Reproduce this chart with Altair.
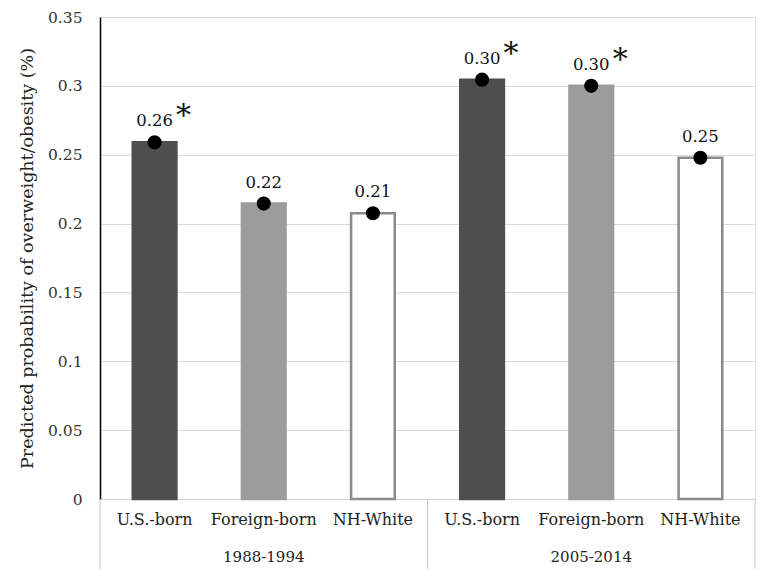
import altair as alt
import pandas as pd

groups = ["U.S.-born", "Foreign-born", "NH-White"]
periods = ["1988-1994", "2005-2014"]
probs_1988 = [0.259, 0.2145, 0.2075]
probs_2005 = [0.3045, 0.300, 0.2478]
labels_1988 = ["0.26", "0.22", "0.21"]
labels_2005 = ["0.30", "0.30", "0.25"]
signif_1988 = [True, False, False]
signif_2005 = [True, True, False]
y_ticks = [0, 0.05, 0.1, 0.15, 0.2, 0.25, 0.3, 0.35]

fills = {"U.S.-born": "#4e4e4e", "Foreign-born": "#9c9c9c", "NH-White": "#ffffff"}
strokes = {"U.S.-born": "#4e4e4e", "Foreign-born": "#9c9c9c", "NH-White": "#8a8a8a"}

rows = []
for period, probs, labs, sig in [
    (periods[0], probs_1988, labels_1988, signif_1988),
    (periods[1], probs_2005, labels_2005, signif_2005),
]:
    for g, p, l, s in zip(groups, probs, labs, sig):
        rows.append({"key": f"{g}|{period}", "group": g, "period": period,
                     "prob": p, "label": l, "star": "*" if s else ""})
df = pd.DataFrame(rows)
keys = list(df["key"])

W, H = 655, 482
FONT = "DejaVu Serif"

x_enc = alt.X("key:N", sort=keys,
              scale=alt.Scale(paddingInner=0, paddingOuter=0),
              axis=alt.Axis(title=None, labelAngle=0, labelExpr="split(datum.label, '|')[0]",
                            labelFont=FONT, labelFontSize=16, labelColor="#222",
                            labelPadding=12, ticks=False, domainColor="#d0d0d0",
                            domainWidth=1.2, grid=False))
y_scale = alt.Scale(domain=[0, 0.35], nice=False)
y_enc = alt.Y("prob:Q", scale=y_scale,
              axis=alt.Axis(title="Predicted probability  of overweight/obesity  (%)",
                            values=y_ticks, format=".2~f", labelFont=FONT, labelFontSize=15.5,
                            labelColor="#333", labelPadding=18, ticks=False,
                            domainColor="#000", domainWidth=1.5,
                            titleFont=FONT, titleFontSize=17.5, titleFontWeight="normal",
                            titleColor="#222", titlePadding=11,
                            grid=True, gridColor="#d9d9d9", gridWidth=1))

base = alt.Chart(df)

bars = base.mark_bar(width=alt.RelativeBandSize(0.4), strokeWidth=2.5).encode(
    x=x_enc, y=y_enc,
    fill=alt.Fill("group:N", scale=alt.Scale(domain=list(fills), range=list(fills.values())), legend=None),
    stroke=alt.Stroke("group:N", scale=alt.Scale(domain=list(strokes), range=list(strokes.values())), legend=None),
)

dots = base.mark_circle(size=200, color="#000", opacity=1).encode(
    x=alt.X("key:N", sort=keys), y=alt.Y("prob:Q"))

vals = base.mark_text(font=FONT, fontSize=16.5, color="#111", dy=-21, baseline="middle").encode(
    x=alt.X("key:N", sort=keys), y=alt.Y("prob:Q"), text="label:N")

stars = base.mark_text(font=FONT, fontSize=30, color="#111", dx=29, dy=-26, baseline="middle").encode(
    x=alt.X("key:N", sort=keys), y=alt.Y("prob:Q"), text="star:N")

grp_df = pd.DataFrame({"key": [keys[1], keys[4]], "period": periods})
grp = alt.Chart(grp_df).mark_text(font=FONT, fontSize=15, color="#222", baseline="middle").encode(
    x=alt.X("key:N", sort=keys), y=alt.value(H + 58), text="period:N")

sep_left = alt.Chart(pd.DataFrame({"key": [keys[0]]})).mark_rule(color="#d0d0d0", strokeWidth=1.2).encode(
    x=alt.X("key:N", sort=keys, bandPosition=0), y=alt.value(H), y2=alt.value(H + 71))
sep_right = alt.Chart(pd.DataFrame({"key": [keys[2], keys[5]]})).mark_rule(color="#d0d0d0", strokeWidth=1.2).encode(
    x=alt.X("key:N", sort=keys, bandPosition=1), y=alt.value(H), y2=alt.value(H + 71))

chart = alt.layer(bars, sep_left, sep_right, dots, vals, stars, grp).properties(
    width=W, height=H,
    autosize=alt.AutoSizeParams(type="none"),
    padding={"left": 92, "top": 9, "right": 10, "bottom": 70},
).configure_view(stroke=None).configure(background="#ffffff")

chart.save("out.html", embed_options={"renderer": "svg", "actions": False})
